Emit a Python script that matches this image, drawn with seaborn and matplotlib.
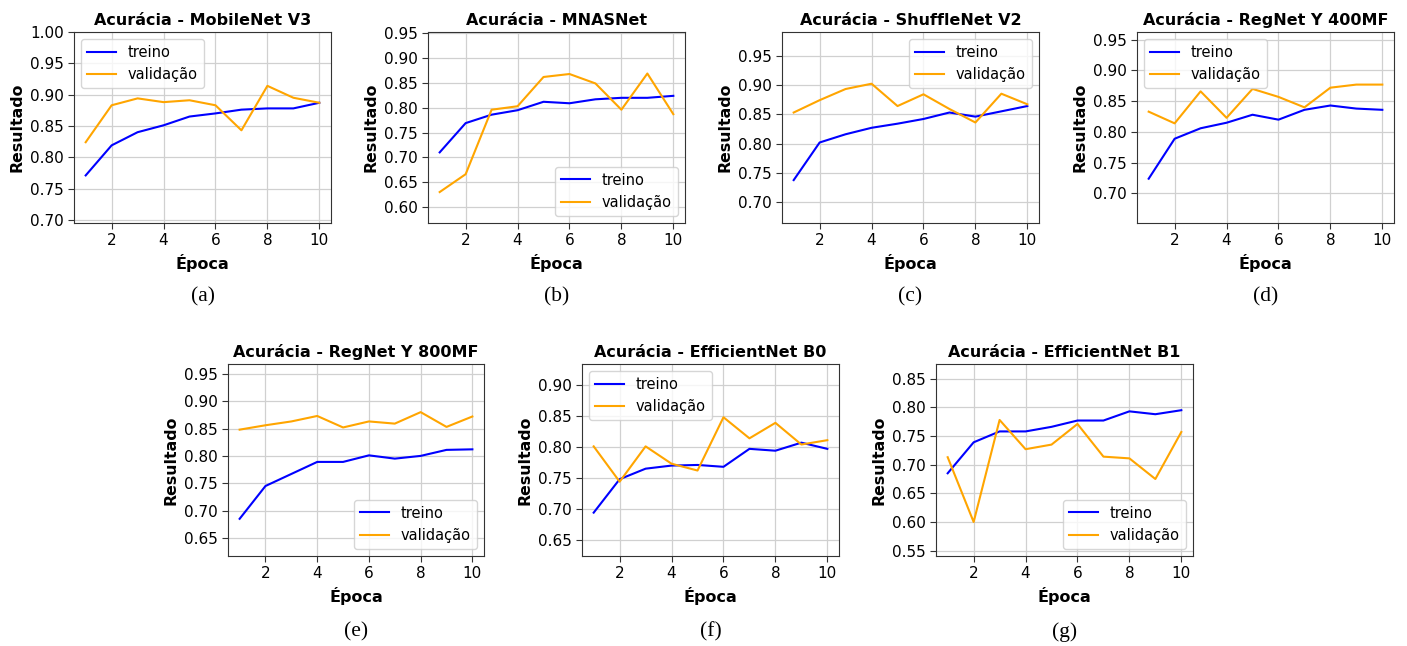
import matplotlib
matplotlib.use("Agg")
import matplotlib.pyplot as plt
import seaborn as sns
import pandas as pd
import numpy as np

epochs = list(range(1, 11))

titles = ["Acurácia - MobileNet V3", "Acurácia - MNASNet", "Acurácia - ShuffleNet V2",
          "Acurácia - RegNet Y 400MF", "Acurácia - RegNet Y 800MF",
          "Acurácia - EfficientNet B0", "Acurácia - EfficientNet B1"]
captions = ["(a)", "(b)", "(c)", "(d)", "(e)", "(f)", "(g)"]

mobilenet_treino = [0.771, 0.819, 0.840, 0.851, 0.865, 0.870, 0.876, 0.878, 0.878, 0.887]
mobilenet_val = [0.824, 0.883, 0.894, 0.888, 0.891, 0.883, 0.843, 0.914, 0.895, 0.887]

mnasnet_treino = [0.710, 0.769, 0.786, 0.795, 0.812, 0.809, 0.817, 0.820, 0.820, 0.824]
mnasnet_val = [0.630, 0.666, 0.796, 0.803, 0.862, 0.868, 0.849, 0.796, 0.869, 0.787]

shufflenet_treino = [0.738, 0.802, 0.816, 0.827, 0.834, 0.842, 0.853, 0.846, 0.855, 0.864]
shufflenet_val = [0.853, 0.874, 0.893, 0.902, 0.864, 0.884, 0.859, 0.836, 0.885, 0.867]

regnet400_treino = [0.724, 0.789, 0.806, 0.815, 0.828, 0.820, 0.836, 0.843, 0.838, 0.836]
regnet400_val = [0.833, 0.814, 0.866, 0.823, 0.870, 0.857, 0.840, 0.872, 0.877, 0.877]

regnet800_treino = [0.685, 0.745, 0.767, 0.789, 0.789, 0.801, 0.795, 0.800, 0.811, 0.812]
regnet800_val = [0.848, 0.856, 0.863, 0.873, 0.852, 0.863, 0.859, 0.880, 0.853, 0.872]

effb0_treino = [0.694, 0.748, 0.765, 0.770, 0.771, 0.768, 0.797, 0.794, 0.807, 0.797]
effb0_val = [0.801, 0.744, 0.801, 0.773, 0.762, 0.848, 0.814, 0.839, 0.804, 0.811]

effb1_treino = [0.685, 0.739, 0.758, 0.758, 0.766, 0.777, 0.777, 0.793, 0.788, 0.795]
effb1_val = [0.713, 0.600, 0.778, 0.727, 0.735, 0.771, 0.714, 0.711, 0.675, 0.757]

treino_series = [mobilenet_treino, mnasnet_treino, shufflenet_treino, regnet400_treino,
                 regnet800_treino, effb0_treino, effb1_treino]
val_series = [mobilenet_val, mnasnet_val, shufflenet_val, regnet400_val,
              regnet800_val, effb0_val, effb1_val]

ylims = [(0.695, 1.0), (0.5676, 0.9527), (0.665, 0.990), (0.652, 0.9625),
         (0.617, 0.968), (0.624, 0.934), (0.5407, 0.8756)]
legend_locs = ["upper left", "lower right", "upper right", "upper left",
               "lower right", "upper left", "lower right"]

W, H = 1407, 646
fig = plt.figure(figsize=(W / 100, H / 100), dpi=100)

# axes boxes in pixels: left, top, right, bottom
boxes = [(74, 32, 331, 223), (428, 32, 685, 223), (782, 32, 1039, 223), (1137, 32, 1394, 223),
         (228, 364, 484, 556), (582, 364, 839, 556), (936, 364, 1193, 556)]
cap_y = [297, 297, 297, 297, 632, 632, 632]

for i in range(7):
    l, t, r, b = boxes[i]
    ax = fig.add_axes([l / W, 1 - b / H, (r - l) / W, (b - t) / H])
    df = pd.DataFrame({
        "Época": epochs * 2,
        "Resultado": treino_series[i] + val_series[i],
        "serie": ["treino"] * 10 + ["validação"] * 10,
    })
    sns.lineplot(data=df, x="Época", y="Resultado", hue="serie",
                 palette={"treino": "blue", "validação": "orange"},
                 linewidth=1.5, ax=ax)
    ax.set_ylim(*ylims[i])
    ax.set_xlim(0.55, 10.45)
    ax.set_xticks([2, 4, 6, 8, 10])
    ax.yaxis.set_major_locator(matplotlib.ticker.MultipleLocator(0.05))
    ax.yaxis.set_major_formatter(matplotlib.ticker.FormatStrFormatter("%.2f"))
    ax.grid(True, color="#d0d0d0", linewidth=0.9)
    ax.set_axisbelow(True)
    ax.tick_params(labelsize=11, length=4, color="#333333")
    for s in ax.spines.values():
        s.set_color("#333333")
    ax.set_title(titles[i], fontsize=11.5, fontweight="bold", pad=5)
    ax.set_xlabel("Época", fontsize=11.5, fontweight="bold")
    ax.set_ylabel("Resultado", fontsize=11.3, fontweight="bold")
    ax.legend(loc=legend_locs[i], fontsize=10.5, title=None)
    fig.text(((l + r) / 2) / W, 1 - cap_y[i] / H, captions[i], ha="center", va="center",
             fontsize=15.5, family="Liberation Serif")

fig.savefig("out.png", dpi=100)
